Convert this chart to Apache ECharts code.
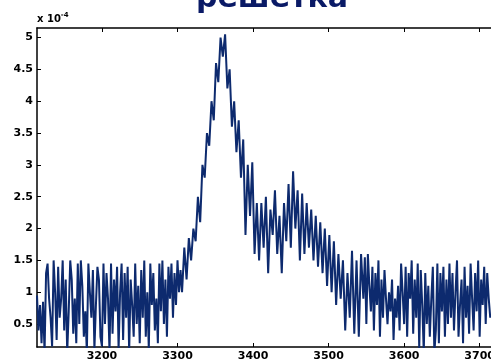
<!DOCTYPE html>
<html>
<head>
<meta charset="utf-8">
<script src="https://cdn.jsdelivr.net/npm/echarts@6/dist/echarts.min.js"></script>
<style>
  html, body { margin: 0; padding: 0; background: #fff; }
  #chart { width: 491px; height: 361px; }
</style>
</head>
<body>
<div id="chart"></div>
<script>
// spectrum pieces, values in units of 1e-4
// baseline: 3114..3304 every 2, peak: 3306..3405 every 3,
// shoulder: 3408..3543 every 3, tail: 3546..3714 every 2
var baseline = [
    0.95, 0.4, 0.8, 0.2, 0.85, 0.05, 1.3, 1.45, 0.9, 0.6,
    0.15, 1.5, 1.0, 0.25, 1.4, 0.6, 0.9, 1.5, 0.4, 1.2,
    0.05, 0.7, 1.5, 1.2, 0.35, 0.9, 0.2, 1.45, 0.5, 1.5,
    1.1, 0.3, 0.7, 0.05, 1.45, 1.0, 0.6, 1.35, 0.1, 0.8,
    1.4, 1.2, 0.3, 0.15, 1.45, 0.5, 1.3, 0.9, 0.05, 1.45,
    0.35, 1.2, 0.7, 1.4, 0.1, 1.0, 1.45, 0.25, 1.3, 0.6,
    1.4, 0.05, 1.2, 0.8, 0.3, 1.45, 0.5, 1.1, 0.2, 1.35,
    0.6, 1.5, 0.3, 1.0, 0.1, 1.45, 0.8, 1.3, 0.4, 0.9,
    0.2, 1.45, 0.7, 1.5, 0.5, 1.2, 0.3, 1.4, 0.9, 1.45,
    0.6, 1.3, 0.8, 1.5, 1.0, 1.35
]
var peak = [
    1.0, 1.7, 1.2, 1.85, 1.5, 2.0, 1.8, 2.5, 2.1, 3.0,
    2.8, 3.5, 3.3, 4.0, 3.7, 4.6, 4.3, 5.0, 4.7, 5.05,
    4.2, 4.5, 3.6, 4.0, 3.2, 3.7, 2.8, 3.4, 1.9, 3.0,
    2.2, 3.04, 1.6, 2.4
]
var shoulder = [
    1.5, 2.4, 1.7, 2.5, 1.3, 2.3, 1.9, 2.6, 1.6, 2.2,
    1.3, 2.4, 1.8, 2.7, 1.7, 2.9, 2.0, 2.6, 1.5, 2.55,
    1.6, 2.4, 1.7, 2.3, 1.5, 2.2, 1.4, 2.1, 1.3, 2.0,
    1.1, 1.9, 1.0, 1.8, 0.8, 1.6, 0.9, 1.5, 0.4, 1.3,
    0.6, 1.65, 0.35, 1.5, 0.3, 1.6
]
var tail = [
    0.9, 1.55, 0.5, 1.6, 1.1, 0.7, 1.4, 0.4, 1.3, 0.8,
    1.5, 0.3, 1.2, 0.6, 1.35, 0.9, 0.5, 1.0, 0.7, 1.2,
    0.25, 0.9, 0.6, 1.1, 0.4, 1.45, 1.0, 0.5, 1.4, 0.3,
    1.3, 0.9, 1.5, 0.35, 1.2, 0.6, 1.45, 0.1, 1.35, 0.8,
    0.05, 1.3, 0.5, 1.1, 0.3, 0.9, 1.4, 0.05, 0.4, 1.45,
    0.2, 1.3, 0.7, 1.4, 0.3, 1.2, 0.5, 1.45, 0.6, 1.3,
    0.4, 1.0, 1.5, 0.3, 0.8, 1.2, 0.2, 1.4, 0.6, 1.1,
    0.35, 1.45, 0.9, 0.4, 1.3, 0.7, 1.5, 0.3, 1.2, 0.8,
    1.4, 0.5, 1.3, 0.9, 0.6
]
var pieces = [
    {start: 3114, step: 2, values: baseline},
    {start: 3306, step: 3, values: peak},
    {start: 3408, step: 3, values: shoulder},
    {start: 3546, step: 2, values: tail}
]
var xTicks = [3200, 3300, 3400, 3500, 3600, 3700]
var yTicks = [0.5, 1, 1.5, 2, 2.5, 3, 3.5, 4, 4.5, 5]

var points = []
pieces.forEach(function (p) {
    p.values.forEach(function (v, i) { points.push([p.start + p.step * i, v]) })
})

var font = 'DejaVu Sans, sans-serif'
var axisLine = {show: true, lineStyle: {color: '#000', width: 1.5}}
var tick = {show: true, inside: true, length: 4, lineStyle: {color: '#000'}}
var labelStyle = {fontSize: 11, fontWeight: 'bold', fontFamily: font, color: '#000', margin: 4}

var chart = echarts.init(document.getElementById('chart'))
var option = {
    animation: false,
    title: {
        text: 'решетка',
        left: 267,
        textAlign: 'center',
        top: -21,
        textStyle: {color: '#0a1a66', fontSize: 30, fontWeight: 'bold', fontFamily: font}
    },
    graphic: [{
        type: 'text',
        left: 37,
        top: 12,
        style: {
            text: '{a|x 10}{b|-4}',
            rich: {
                a: {fontSize: 10, fontWeight: 'bold', fontFamily: font, fill: '#000'},
                b: {fontSize: 7, fontWeight: 'bold', fontFamily: font, fill: '#000', verticalAlign: 'top', padding: [0, 0, 8, 0]}
            }
        }
    }],
    grid: {left: 37, right: 0, top: 28, bottom: 14, outerBoundsMode: 'none'},
    xAxis: [{
        type: 'value',
        min: 3114,
        max: 3715,
        axisLine: axisLine,
        axisTick: Object.assign({customValues: xTicks}, tick),
        axisLabel: Object.assign({customValues: xTicks, formatter: function (v) { return String(v) }}, labelStyle),
        splitLine: {show: false}
    }, {
        type: 'value',
        position: 'top',
        min: 3114,
        max: 3715,
        axisLine: axisLine,
        axisTick: Object.assign({customValues: xTicks}, tick),
        axisLabel: {show: false},
        splitLine: {show: false}
    }],
    yAxis: {
        type: 'value',
        min: 0.14,
        max: 5.15,
        axisLine: axisLine,
        axisTick: Object.assign({customValues: yTicks}, tick),
        axisLabel: Object.assign({customValues: yTicks}, labelStyle),
        splitLine: {show: false}
    },
    series: [{
        type: 'line',
        data: points,
        showSymbol: false,
        clip: true,
        lineStyle: {color: '#0d2a6e', width: 2}
    }]
}
chart.setOption(option)
</script>
</body>
</html>
